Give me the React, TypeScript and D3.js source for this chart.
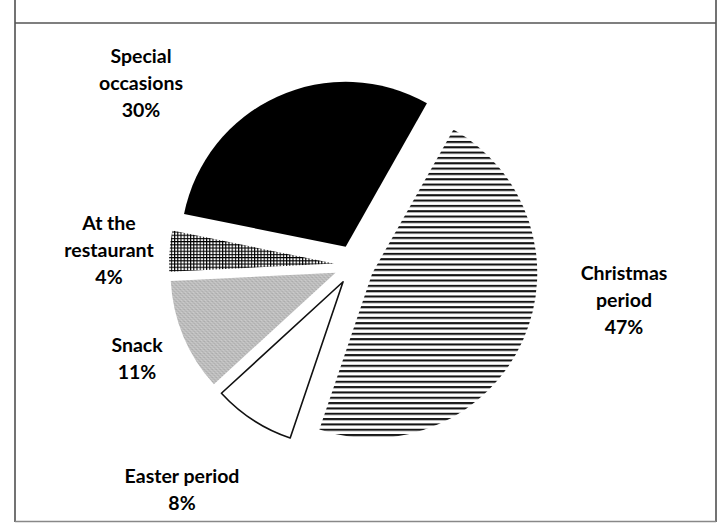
import React from 'react';
import * as d3 from 'd3';

// ---- data ----
const categories = ["Special occasions", "Christmas period", "Easter period", "Snack", "At the restaurant"];
const values = [30, 47, 8, 11, 4];
const labelLines = [["Special", "occasions"], ["Christmas", "period"], ["Easter period"], ["Snack"], ["At the", "restaurant"]];

// ---- layout ----
const W = 724, H = 523;
const cx = 354, cy = 265, R = 165, explode = 20;
const labelPos: [number, number][] = [[141, 63], [624, 280], [182, 483], [137, 352], [109, 230]];
const lineH = 26.8;
const fills = ["#000", "url(#hlines)", "#fff", "url(#stipple)", "url(#grid)"];

export default function App() {
  const start = (-78.5 * Math.PI) / 180;
  const pie = d3.pie<number>().sort(null).startAngle(start).endAngle(start + 2 * Math.PI);
  const arcs = pie(values);
  const arcGen = d3.arc<d3.PieArcDatum<number>>().innerRadius(0).outerRadius(R);

  return (
    <svg width={W} height={H} style={{ position: 'absolute', left: 0, top: 0, background: '#fff' }}
      fontFamily="Lato, 'Open Sans', sans-serif">
      <defs>
        <pattern id="hlines" patternUnits="userSpaceOnUse" width={10} height={5.33} y={1}>
          <rect x={0} y={0} width={10} height={5.33} fill="#fff" />
          <rect x={0} y={0} width={10} height={2.1} fill="#141414" />
        </pattern>
        <pattern id="grid" patternUnits="userSpaceOnUse" width={3.2} height={3.2}>
          <rect x={0} y={0} width={3.2} height={3.2} fill="#fff" />
          <rect x={0} y={0} width={1.1} height={3.2} fill="#000" />
          <rect x={0} y={0} width={3.2} height={1.1} fill="#000" />
        </pattern>
        <pattern id="stipple" patternUnits="userSpaceOnUse" width={4} height={4}>
          <rect x={0} y={0} width={4} height={4} fill="#bdbdbd" />
          <rect x={0} y={0} width={1} height={1} fill="#929292" />
          <rect x={2} y={2} width={1} height={1} fill="#9e9e9e" />
          <rect x={1} y={3} width={1} height={1} fill="#e0e0e0" />
          <rect x={3} y={1} width={1} height={1} fill="#dadada" />
        </pattern>
      </defs>

      {/* frame */}
      <line x1={15} y1={0} x2={15} y2={522} stroke="#444" strokeWidth={1.5} />
      <line x1={716} y1={0} x2={716} y2={522} stroke="#444" strokeWidth={1.5} />
      <line x1={15} y1={23} x2={716} y2={23} stroke="#555" strokeWidth={1.5} />
      <line x1={15} y1={521.5} x2={716} y2={521.5} stroke="#888" strokeWidth={1.5} />

      {/* slices */}
      {arcs.map((a, i) => {
        const mid = (a.startAngle + a.endAngle) / 2;
        const dx = Math.sin(mid) * explode;
        const dy = -Math.cos(mid) * explode;
        return (
          <path key={categories[i]} d={arcGen(a) || ''} transform={`translate(${cx + dx},${cy + dy})`}
            fill={fills[i]} stroke={i === 2 ? '#111' : 'none'} strokeWidth={i === 2 ? 1.6 : 0}
            strokeLinejoin="round" />
        );
      })}

      {/* labels */}
      {arcs.map((a, i) => {
        const [x, y] = labelPos[i];
        const lines = [...labelLines[i], `${values[i]}%`];
        return (
          <text key={'l' + i} x={x} y={y} textAnchor="middle" fontSize={19.5} fontWeight={700} fill="#000">
            {lines.map((t, j) => (
              <tspan key={j} x={x} y={y + j * lineH}>{t}</tspan>
            ))}
          </text>
        );
      })}
    </svg>
  );
}
